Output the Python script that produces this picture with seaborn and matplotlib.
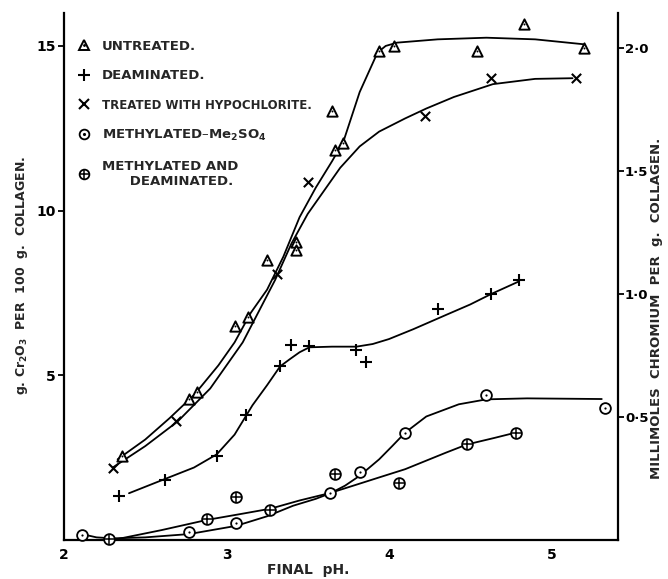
import matplotlib
matplotlib.use("Agg")
import matplotlib.pyplot as plt
import seaborn as sns
from matplotlib.lines import Line2D

# ---------------- data ----------------
untreated_ph = [2.36, 2.77, 2.82, 3.05, 3.13, 3.25, 3.43, 3.43, 3.65, 3.67, 3.715, 3.94, 4.03, 4.54, 4.83, 5.20]
untreated_cr = [2.56, 4.27, 4.48, 6.49, 6.77, 8.50, 9.05, 8.80, 13.02, 11.83, 12.04, 14.85, 15.00, 14.85, 15.67, 14.94]

deaminated_ph = [2.34, 2.62, 2.94, 3.12, 3.33, 3.40, 3.51, 3.80, 3.86, 4.30, 4.63, 4.80]
deaminated_cr = [1.34, 1.83, 2.56, 3.81, 5.27, 5.91, 5.88, 5.76, 5.40, 7.01, 7.47, 7.90]

hypo_ph = [2.30, 2.69, 3.31, 3.50, 4.22, 4.63, 5.15]
hypo_cr = [2.19, 3.60, 8.08, 10.88, 12.87, 14.02, 14.02]

methyl_ph = [2.11, 2.77, 3.06, 3.64, 3.82, 4.10, 4.60, 5.33]
methyl_cr = [0.15, 0.24, 0.52, 1.43, 2.05, 3.26, 4.39, 4.02]

methdeam_ph = [2.28, 2.88, 3.06, 3.27, 3.67, 4.06, 4.48, 4.78]
methdeam_cr = [0.03, 0.64, 1.31, 0.91, 2.01, 1.74, 2.90, 3.26]

# hand-drawn smooth curves
untreated_curve_ph = [2.33, 2.5, 2.65, 2.8, 2.95, 3.05, 3.15, 3.25, 3.35, 3.45, 3.55, 3.65, 3.72, 3.82, 3.93, 3.98, 4.05, 4.3, 4.6, 4.9, 5.2]
untreated_curve_cr = [2.45, 3.05, 3.7, 4.4, 5.3, 6.0, 6.9, 7.6, 8.6, 9.8, 10.7, 11.5, 12.1, 13.6, 14.8, 15.0, 15.1, 15.2, 15.25, 15.2, 15.05]

hypo_curve_ph = [2.30, 2.5, 2.7, 2.9, 3.1, 3.3, 3.4, 3.5, 3.6, 3.7, 3.82, 3.94, 4.1, 4.23, 4.4, 4.64, 4.9, 5.13]
hypo_curve_cr = [2.2, 2.85, 3.6, 4.6, 6.0, 7.9, 9.0, 9.9, 10.6, 11.3, 11.95, 12.4, 12.8, 13.1, 13.45, 13.84, 14.0, 14.02]

deam_curve_ph = [2.40, 2.62, 2.8, 2.94, 3.05, 3.16, 3.25, 3.33, 3.39, 3.45, 3.51, 3.65, 3.8, 3.9, 4.0, 4.15, 4.35, 4.5, 4.63, 4.8]
deam_curve_cr = [1.42, 1.85, 2.2, 2.6, 3.2, 4.09, 4.7, 5.27, 5.49, 5.7, 5.85, 5.87, 5.87, 5.95, 6.1, 6.4, 6.83, 7.15, 7.47, 7.85]

methyl_curve_ph = [2.11, 2.2, 2.3, 2.5, 2.77, 3.06, 3.25, 3.41, 3.55, 3.64, 3.73, 3.82, 3.94, 4.02, 4.10, 4.23, 4.43, 4.60, 4.85, 5.31]
methyl_curve_cr = [0.18, 0.08, 0.05, 0.08, 0.18, 0.43, 0.72, 1.04, 1.25, 1.42, 1.65, 1.95, 2.45, 2.85, 3.26, 3.75, 4.12, 4.27, 4.30, 4.28]

methdeam_curve_ph = [2.33, 2.6, 2.88, 3.1, 3.27, 3.45, 3.64, 3.8, 3.94, 4.1, 4.23, 4.35, 4.48, 4.65, 4.78]
methdeam_curve_cr = [0.03, 0.3, 0.61, 0.8, 0.95, 1.2, 1.43, 1.68, 1.9, 2.15, 2.41, 2.65, 2.90, 3.1, 3.26]

x_ticks = [2, 3, 4, 5]
left_ticks = [5, 10, 15]
right_ticks = [0.5, 1.0, 1.5, 2.0]
right_tick_labels = ["0\u00b75", "1\u00b70", "1\u00b75", "2\u00b70"]

legend_labels = ["UNTREATED.", "DEAMINATED.", "TREATED WITH HYPOCHLORITE.",
                 "METHYLATED\u2013Me$_\\mathbf{2}$SO$_\\mathbf{4}$",
                 "METHYLATED AND\n      DEAMINATED."]

# ---------------- figure ----------------
sns.set_theme(style="white")
plt.rcParams["font.family"] = ["DejaVu Sans"]
plt.rcParams["font.weight"] = "bold"

fig = plt.figure(figsize=(6.68, 5.79), dpi=100)
ax = fig.add_axes([64 / 668, 1 - 540 / 579, 554 / 668, 527 / 579])

LW = 1.3
for cx, cy in [(untreated_curve_ph, untreated_curve_cr), (hypo_curve_ph, hypo_curve_cr),
               (deam_curve_ph, deam_curve_cr), (methyl_curve_ph, methyl_curve_cr),
               (methdeam_curve_ph, methdeam_curve_cr)]:
    sns.lineplot(x=cx, y=cy, sort=False, estimator=None, color="black", lw=LW, ax=ax, zorder=2)

# markers
sns.scatterplot(x=untreated_ph, y=untreated_cr, marker="^", s=55, facecolor="white",
                edgecolor="black", linewidth=1.4, zorder=4, ax=ax, clip_on=False)
sns.scatterplot(x=untreated_ph, y=untreated_cr, marker=".", s=8, color="black",
                linewidth=0, zorder=5, ax=ax, clip_on=False)
sns.scatterplot(x=deaminated_ph, y=deaminated_cr, marker="+", s=70, color="black",
                linewidth=1.5, zorder=4, ax=ax)
sns.scatterplot(x=hypo_ph, y=hypo_cr, marker="x", s=45, color="black",
                linewidth=1.5, zorder=4, ax=ax)
sns.scatterplot(x=methyl_ph, y=methyl_cr, marker="o", s=60, facecolor="white",
                edgecolor="black", linewidth=1.3, zorder=4, ax=ax, clip_on=False)
sns.scatterplot(x=methyl_ph, y=methyl_cr, marker=".", s=10, color="black",
                linewidth=0, zorder=5, ax=ax, clip_on=False)
sns.scatterplot(x=methdeam_ph, y=methdeam_cr, marker="o", s=60, facecolor="white",
                edgecolor="black", linewidth=1.3, zorder=4, ax=ax, clip_on=False)
sns.scatterplot(x=methdeam_ph, y=methdeam_cr, marker="+", s=45, color="black",
                linewidth=1.1, zorder=5, ax=ax, clip_on=False)

ax.set_xlim(2, 5.41)
ax.set_ylim(0, 16.0)
ax.set_xticks(x_ticks)
ax.set_xticklabels([str(t) for t in x_ticks])
ax.set_yticks(left_ticks)
ax.set_yticklabels([str(t) for t in left_ticks])
ax.tick_params(axis="both", direction="out", length=4, width=1.3, labelsize=10,
               pad=2, colors="black")
ax.tick_params(axis="x", length=0, pad=6)
for s in ["top", "right"]:
    ax.spines[s].set_visible(False)
for s in ["left", "bottom"]:
    ax.spines[s].set_color("black")
    ax.spines[s].set_linewidth(1.6)

ax.set_xlabel("FINAL  pH.", fontsize=10, fontweight="bold")
ax.xaxis.set_label_coords((308 - 64) / 554, -(563 - 540) / 527)
ax.set_ylabel("g. Cr$_\\mathbf{2}$O$_\\mathbf{3}$  PER  100  g.  COLLAGEN.",
              fontsize=9, fontweight="bold")
ax.yaxis.set_label_coords(-(64 - 30) / 554, 1 - (275 - 13) / 527)

# right axis
ax2 = ax.twinx()
ax2.set_ylim(0, 2.143)
ax2.set_yticks(right_ticks)
ax2.set_yticklabels(right_tick_labels)
ax2.tick_params(axis="y", direction="out", length=4, width=1.3, labelsize=9.5, pad=1,
                colors="black")
for s in ["top", "left", "bottom"]:
    ax2.spines[s].set_visible(False)
ax2.spines["right"].set_color("black")
ax2.spines["right"].set_linewidth(1.6)
ax2.set_ylabel("MILLIMOLES  CHROMIUM  PER  g.  COLLAGEN.", fontsize=9.5,
               fontweight="bold", rotation=90)
ax2.yaxis.set_label_coords(1 + (650 - 618) / 554, 1 - (308 - 13) / 527)
ax2.grid(False)
ax.grid(False)

# legend
h_tri = (Line2D([], [], ls="", marker="^", ms=7, mfc="white", mec="black", mew=1.4),
         Line2D([], [], ls="", marker=".", ms=2, color="black"))
h_plus = Line2D([], [], ls="", marker="+", ms=8, mew=1.5, color="black")
h_x = Line2D([], [], ls="", marker="x", ms=6.5, mew=1.5, color="black")
h_odot = (Line2D([], [], ls="", marker="o", ms=7, mfc="white", mec="black", mew=1.3),
          Line2D([], [], ls="", marker=".", ms=2.5, color="black"))
h_oplus = (Line2D([], [], ls="", marker="o", ms=7, mfc="white", mec="black", mew=1.3),
           Line2D([], [], ls="", marker="+", ms=6.5, mew=1.1, color="black"))
leg = ax.legend([h_tri, h_plus, h_x, h_odot, h_oplus], legend_labels, loc="upper left",
                bbox_to_anchor=(0.0, 0.972), frameon=False, handlelength=1.2,
                handletextpad=0.75, labelspacing=1.25, borderaxespad=0.5,
                prop=dict(weight="bold", size=9.5))
leg.get_texts()[2].set_fontsize(8.5)

fig.savefig("out.png", dpi=100)
